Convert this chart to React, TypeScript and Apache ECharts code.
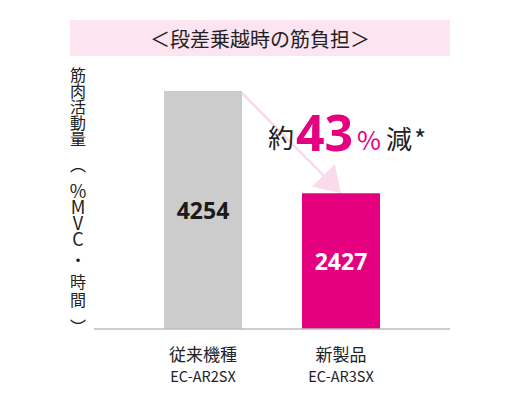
import * as echarts from 'echarts';
import { useEffect, useRef } from 'react';

const categories = ['従来機種', '新製品'];
const models = ['EC-AR2SX', 'EC-AR3SX'];
const values = [4254, 2427];
const barColors = ['#cccccc', '#e4007f'];
const valueLabelColors = ['#1a1a1a', '#ffffff'];
const titleText = '＜段差乗越時の筋負担＞';
const yNameLines = ['筋', '肉', '活', '動', '量', '︵', '%', 'M', 'V', 'C', '・', '時', '間', '︶'];

const JP = '"Noto Sans CJK JP", "Noto Sans", sans-serif';
const PINK = '#e4007f';
const BAR_WIDTH = 78;

function yNameStyleKey(ch: string): string {
  if (ch === '︵') return 'po';
  if (ch === '︶') return 'pc';
  if (ch === '・') return 'dot';
  if (/[A-Z%]/.test(ch)) return 'lat';
  if (ch === '時' || ch === '間') return 'k2';
  return 'k';
}

function buildOption() {
  return {
    animation: false,
    grid: { left: 134, right: 109, top: 91, bottom: 71 },
    xAxis: {
      type: 'category',
      data: categories,
      axisLine: { show: false },
      axisTick: { show: false },
      axisLabel: {
        margin: 12,
        formatter: (value: string, index: number) => `{a|${value}}\n{b|${models[index]}}`,
        rich: {
          a: { fontFamily: JP, fontSize: 17, lineHeight: 24, color: '#222' },
          b: { fontFamily: JP, fontSize: 14.5, lineHeight: 20, color: '#222' },
        },
      },
    },
    yAxis: {
      type: 'value',
      min: 0,
      max: 'dataMax',
      axisLine: { show: false },
      axisTick: { show: false },
      axisLabel: { show: false },
      splitLine: { show: false },
      name: yNameLines.map((ch) => `{${yNameStyleKey(ch)}|${ch}}`).join('\n'),
      nameLocation: 'middle',
      nameRotate: 0,
      nameGap: 56,
      nameTextStyle: {
        align: 'center',
        padding: [0, 0, 10, 0],
        rich: {
          k: { fontFamily: JP, fontSize: 16, lineHeight: 16, color: '#222' },
          k2: { fontFamily: JP, fontSize: 16, lineHeight: 18, color: '#222' },
          lat: { fontFamily: JP, fontSize: 18, lineHeight: 16, color: '#222' },
          dot: { fontFamily: JP, fontSize: 16, lineHeight: 26, color: '#222' },
          po: { fontFamily: JP, fontSize: 16, lineHeight: 36, color: '#222' },
          pc: { fontFamily: JP, fontSize: 16, lineHeight: 36, color: '#222' },
        },
      },
    },
    series: [
      {
        type: 'bar',
        barWidth: BAR_WIDTH,
        z: 3,
        data: values.map((v, i) => ({
          value: v,
          itemStyle: { color: barColors[i] },
          label: { color: valueLabelColors[i] },
        })),
        label: {
          show: true,
          position: 'inside',
          fontFamily: '"Noto Sans", sans-serif',
          fontWeight: 'bold',
          fontSize: 23,
        },
      },
    ],
  };
}

export default function App() {
  const ref = useRef<HTMLDivElement | null>(null);

  useEffect(() => {
    document.body.style.margin = '0';
    if (!ref.current) return;
    const chart = echarts.init(ref.current, null, { renderer: 'svg' });
    chart.setOption(buildOption());

    const p1 = chart.convertToPixel({ gridIndex: 0 }, [categories[0], values[0]]) as number[];
    const p2 = chart.convertToPixel({ gridIndex: 0 }, [categories[1], values[1]]) as number[];
    const base0 = chart.convertToPixel({ gridIndex: 0 }, [categories[0], 0]) as number[];

    // arrow from the old bar's top corner to the new bar's top
    const start = [p1[0] + BAR_WIDTH / 2, p1[1] + 2];
    const end = [p2[0], p2[1]];
    const dx = end[0] - start[0];
    const dy = end[1] - start[1];
    const len = Math.hypot(dx, dy);
    const ux = dx / len;
    const uy = dy / len;
    const headLen = 25;
    const halfW = 16;
    const hb = [end[0] - ux * headLen, end[1] - uy * headLen];

    const reduction = Math.round((1 - values[1] / values[0]) * 100);

    chart.setOption({
      graphic: [
        {
          type: 'rect',
          shape: { x: 70, y: 20, width: 380, height: 36 },
          style: { fill: '#fce4f0' },
        },
        {
          type: 'text',
          x: 260,
          y: 38.5,
          style: {
            text: titleText,
            fontFamily: JP,
            fontSize: 20,
            fill: '#222',
            align: 'center',
            verticalAlign: 'middle',
          },
        },
        {
          type: 'line',
          shape: { x1: 94, y1: base0[1], x2: 450, y2: base0[1] },
          style: { stroke: '#bdbdbd', lineWidth: 1.5 },
          z: 10,
        },
        {
          type: 'line',
          shape: { x1: start[0], y1: start[1], x2: hb[0] + ux * 2, y2: hb[1] + uy * 2 },
          style: { stroke: '#fadbeb', lineWidth: 2.5 },
        },
        {
          type: 'polygon',
          shape: {
            points: [
              [end[0], end[1]],
              [hb[0] - uy * halfW, hb[1] + ux * halfW],
              [hb[0] + uy * halfW, hb[1] - ux * halfW],
            ],
          },
          style: { fill: '#fadbeb' },
        },
        {
          type: 'text',
          x: 268,
          y: 136,
          style: { text: '約', fontFamily: JP, fontSize: 26, fill: '#222', verticalAlign: 'middle' },
        },
        {
          type: 'text',
          x: 296,
          y: 132,
          style: {
            text: String(reduction),
            fontFamily: '"Noto Sans", sans-serif',
            fontWeight: 'bold',
            fontSize: 50,
            fill: PINK,
            verticalAlign: 'middle',
          },
        },
        {
          type: 'text',
          x: 357,
          y: 138,
          style: { text: '%', fontFamily: JP, fontSize: 26, fill: PINK, verticalAlign: 'middle' },
        },
        {
          type: 'text',
          x: 386,
          y: 137,
          style: { text: '減', fontFamily: JP, fontSize: 26, fill: '#222', verticalAlign: 'middle' },
        },
        {
          type: 'text',
          x: 414,
          y: 137,
          style: { text: '*', fontFamily: JP, fontSize: 26, fill: '#222', verticalAlign: 'middle' },
        },
      ],
    });

    return () => chart.dispose();
  }, []);

  return <div ref={ref} style={{ width: 519, height: 400 }} />;
}
